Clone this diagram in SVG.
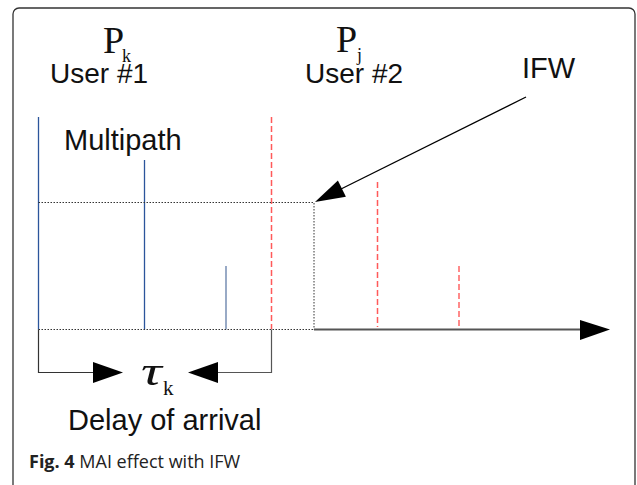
<svg xmlns="http://www.w3.org/2000/svg" width="637" height="485" viewBox="0 0 637 485">
<style>
.lab{font-family:"Liberation Sans",Arial,sans-serif;font-size:28px;fill:#111}
.ser{font-family:"Liberation Serif","Times New Roman",serif;fill:#111}
.blue{stroke:#2b559b;stroke-width:1.3;fill:none}
.red{stroke:#ff5a5a;stroke-width:1.5;stroke-dasharray:6,3;fill:none}
.redl{stroke:#ff8a8a;stroke-width:2;stroke-dasharray:6,3;fill:none}
.dot{stroke:#333;stroke-width:1;stroke-dasharray:1.5,1.5;fill:none}
.sol{stroke:#333;stroke-width:1.2;fill:none}
.cap{font-family:"Open Sans","Noto Sans",sans-serif;font-size:18px;fill:#222}
</style>
<rect x="13" y="8" width="622" height="495" rx="6" fill="#fff" stroke="#333" stroke-width="1.3"/>
<g id="connectors">
<line class="blue" x1="38.5" y1="117" x2="38.5" y2="329.5"/>
<line class="blue" x1="144.5" y1="160" x2="144.5" y2="329.5"/>
<line x1="226" y1="266" x2="226" y2="329.5" stroke="#7f95b8" stroke-width="1.6"/>
<line class="red" x1="271.5" y1="117" x2="271.5" y2="329"/>
<line class="red" x1="377.5" y1="182" x2="377.5" y2="327"/>
<line class="redl" x1="459" y1="266" x2="459" y2="327"/>
<polyline class="dot" points="38.5,202.5 314,202.5 314,329.5"/>
<line class="dot" x1="38.5" y1="329.5" x2="314" y2="329.5"/>
<line x1="314" y1="329.5" x2="582" y2="329.5" stroke="#555" stroke-width="2"/>
<polygon points="580,320 610,329.5 580,340" fill="#000"/>
<polyline class="sol" points="38.5,329.5 38.5,372.5 95,372.5"/>
<polygon points="93,362 123,372.5 93,383" fill="#000"/>
<polyline points="271.5,329.5 271.5,372.5 216,372.5" stroke="#555" stroke-width="1.2" fill="none"/>
<polygon points="218,362 188,372.5 218,383" fill="#000"/>
<line x1="526" y1="97" x2="340" y2="189.5" stroke="#000" stroke-width="1.3"/>
<polygon points="315,202 337.9,180.5 345.9,196.7" fill="#000"/>
</g>
<g id="user1">
<text class="ser" x="103" y="53" font-size="38">P</text>
<text class="ser" x="122" y="62" font-size="18">k</text>
<text class="lab" x="50" y="83">User #1</text>
</g>
<g id="user2">
<text class="ser" x="336" y="52" font-size="38">P</text>
<text class="ser" x="357" y="61" font-size="18">j</text>
<text class="lab" x="305" y="83">User #2</text>
</g>
<g id="ifw"><text class="lab" x="522" y="78" style="font-size:29px">IFW</text></g>
<g id="multipath"><text class="lab" x="64" y="150" style="font-size:29px">Multipath</text></g>
<g id="delay">
<text class="ser" x="0" y="0" font-size="40" font-style="italic" transform="translate(141,385) scale(1.45,1)">τ</text>
<text class="ser" x="163" y="395" font-size="21">k</text>
<text class="lab" x="68" y="430" style="font-size:29px">Delay of arrival</text>
</g>
<g id="caption">
<text class="cap" x="29" y="468"><tspan font-weight="bold">Fig. 4</tspan> MAI effect with IFW</text>
</g>
</svg>
